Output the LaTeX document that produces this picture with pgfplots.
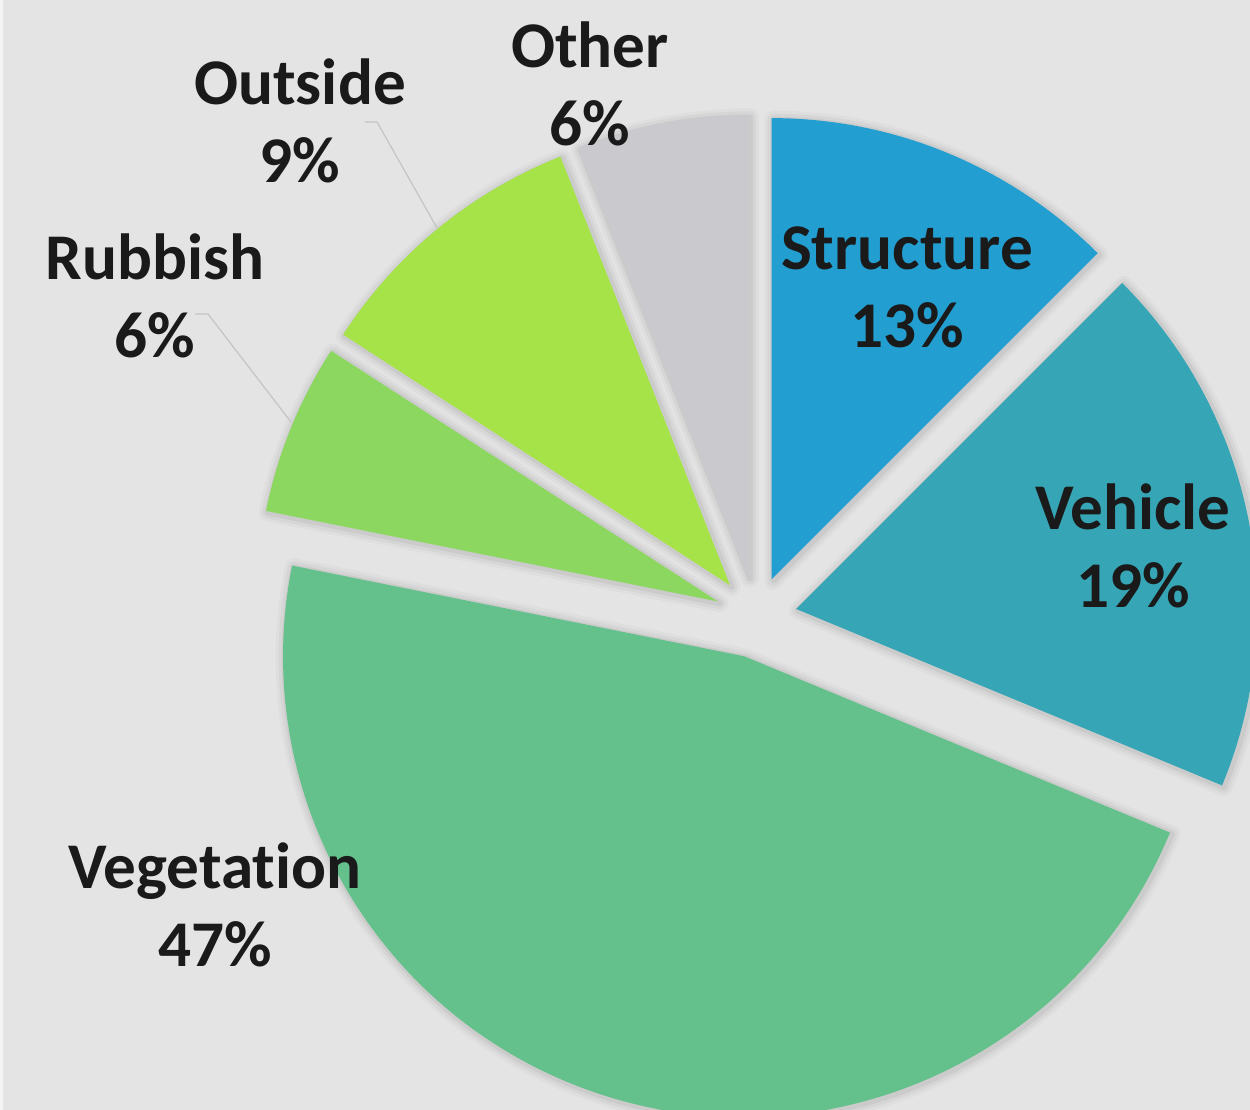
\documentclass[border=0pt]{standalone}
\usepackage{pgfplots}
\pgfplotsset{compat=1.18}
\usepackage{pgfplotstable}
\usepackage{fontspec}
\setmainfont{Carlito}[Ligatures=NoCommon]

\definecolor{bgC}{HTML}{E4E4E4}
\definecolor{structC}{HTML}{239ED1}
\definecolor{vehC}{HTML}{36A6B6}
\definecolor{vegC}{HTML}{64C18C}
\definecolor{rubC}{HTML}{8CD75F}
\definecolor{outC}{HTML}{A6E348}
\definecolor{othC}{HTML}{C9C9CE}
\definecolor{leadC}{HTML}{C4C4C4}
\definecolor{txtC}{HTML}{1A1A1A}

% share of each cause, clockwise from 12 o'clock; lx ly = label centre
\pgfplotstableread{
label      pct    txt  lx    ly   color
Structure  12.5   13   907   823  structC
Vehicle    18.75  19   1133  564  vehC
Vegetation 46.9   47   215   205  vegC
Rubbish    6.0    6    155   814  rubC
Outside    9.85   9    300   989  outC
Other      6.0    6    590   1026 othC
}\piedata

\def\R{230.5pt}   % radius (461 px)
\def\cx{756}\def\cy{493}\def\expl{41}
\newcommand\lbfont{\bfseries\fontsize{32.6}{39}\selectfont}
\tikzset{shad/.style={black, line join=round, shift={(0.8pt,-0.8pt)}}}

\begin{document}
\begin{tikzpicture}
\useasboundingbox (0,0) rectangle (625pt,555pt);
\begin{axis}[
    hide axis, at={(0,0)}, anchor=south west,
    x=0.5pt, y=0.5pt, xmin=0, xmax=1250, ymin=0, ymax=1110,
    clip=true]
  \fill[bgC] (axis cs:0,0) rectangle (axis cs:1250,1110);
  \fill[white!60!bgC] (axis cs:0,0) rectangle (axis cs:3,1110);
  \xdef\curang{90}
  \pgfplotsinvokeforeach{0,...,5}{
    \pgfplotstablegetelem{#1}{pct}\of\piedata \let\pct\pgfplotsretval
    \pgfplotstablegetelem{#1}{color}\of\piedata \let\col\pgfplotsretval
    \pgfmathsetmacro\endang{\curang-3.6*\pct}
    \pgfmathsetmacro\midang{(\curang+\endang)/2}
    \pgfmathsetmacro\ax{\cx+\expl*cos(\midang)}
    \pgfmathsetmacro\ay{\cy+\expl*sin(\midang)}
    \edef\wedge{(axis cs:\ax,\ay) -- ++(\curang:\R)
        arc[start angle=\curang, end angle=\endang, radius=\R] -- cycle}
    \edef\slice{%
      \noexpand\draw[shad, opacity=0.025, line width=9pt] \wedge;
      \noexpand\draw[shad, opacity=0.035, line width=6pt] \wedge;
      \noexpand\draw[shad, opacity=0.05, line width=3pt] \wedge;
      \noexpand\fill[\col] \wedge;}
    \slice
    \xdef\curang{\endang}
  }
  % labels
  \pgfplotsinvokeforeach{0,...,5}{
    \pgfplotstablegetelem{#1}{label}\of\piedata \let\lab\pgfplotsretval
    \pgfplotstablegetelem{#1}{txt}\of\piedata \let\txt\pgfplotsretval
    \pgfplotstablegetelem{#1}{lx}\of\piedata \let\lx\pgfplotsretval
    \pgfplotstablegetelem{#1}{ly}\of\piedata \let\ly\pgfplotsretval
    \edef\lbl{\noexpand\node[align=center, text=txtC, font=\noexpand\lbfont, inner sep=0pt]
      at (axis cs:\lx,\ly) {\lab\noexpand\\\txt\noexpand\%};}
    \lbl
  }
  % leader lines
  \draw[leadC, line width=0.6pt] (axis cs:365,988) -- (axis cs:377,988) -- (axis cs:437,882);
  \draw[leadC, line width=0.6pt] (axis cs:195,796) -- (axis cs:208,796) -- (axis cs:291,688);
\end{axis}
\end{tikzpicture}
\end{document}
